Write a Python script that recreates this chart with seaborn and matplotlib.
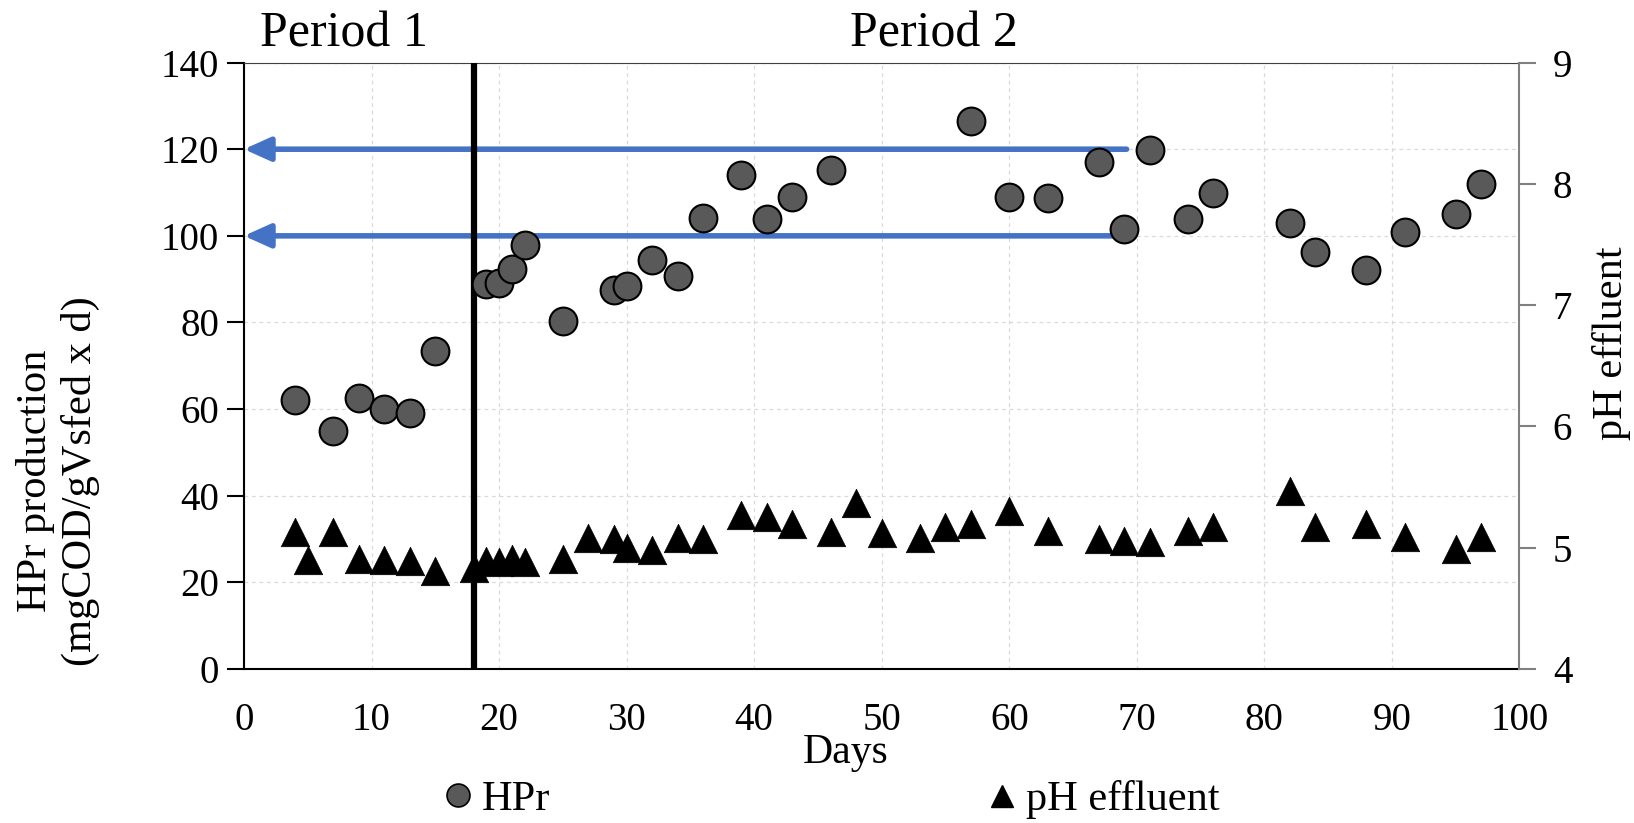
import matplotlib
matplotlib.use("Agg")
import matplotlib.pyplot as plt
import seaborn as sns
import pandas as pd
from matplotlib.lines import Line2D

# ---- data ----
hpr_days = [4, 7, 9, 11, 13, 15, 19, 20, 21, 22, 25, 29, 30, 32, 34, 36, 39, 41, 43, 46,
            57, 60, 63, 67, 69, 71, 74, 76, 82, 84, 88, 91, 95, 97]
hpr_vals = [62, 55, 62.5, 60, 59.2, 73.5, 89, 89.2, 92.3, 97.8, 80.4, 87.6, 88.4, 94.4, 90.8, 104.2,
            114.1, 104, 109, 115.1, 126.6, 108.9, 108.7, 117.1, 101.6, 119.9, 104, 109.9, 102.9,
            96.2, 92.2, 100.8, 105, 112]

ph_days = [4, 5, 7, 9, 11, 13, 15, 18, 19, 20, 21, 22, 25, 27, 29, 30, 32, 34, 36, 39, 41, 43,
           46, 48, 50, 53, 55, 57, 60, 63, 67, 69, 71, 74, 76, 82, 84, 88, 91, 95, 97]
ph_vals = [5.13, 4.90, 5.13, 4.91, 4.90, 4.89, 4.81, 4.83, 4.89, 4.88, 4.91, 4.88, 4.91, 5.08,
           5.07, 5.00, 4.98, 5.08, 5.07, 5.27, 5.25, 5.20, 5.13, 5.37, 5.12, 5.08, 5.17, 5.20,
           5.30, 5.14, 5.07, 5.06, 5.05, 5.14, 5.17, 5.47, 5.17, 5.20, 5.09, 4.99, 5.09]

arrow_levels = [120, 100]
arrow_start = 69.2
period_split = 18
x_ticks = [0, 10, 20, 30, 40, 50, 60, 70, 80, 90, 100]
y_ticks = [0, 20, 40, 60, 80, 100, 120, 140]
ph_ticks = [4, 5, 6, 7, 8, 9]

df_hpr = pd.DataFrame({"Days": hpr_days, "HPr": hpr_vals})
df_ph = pd.DataFrame({"Days": ph_days, "pH": ph_vals})

sns.set_style("white")
plt.rcParams["font.family"] = ["Liberation Serif", "DejaVu Serif"]
for k in ["text.color", "axes.labelcolor", "xtick.color", "ytick.color"]:
    plt.rcParams[k] = "black"

fig = plt.figure(figsize=(16.34, 8.23), dpi=100)
ax = fig.add_axes([0.1493, 0.187, 0.7806, 0.737])
ax2 = ax.twinx()

ax.set_xlim(0, 100)
ax.set_ylim(0, 140)
ax2.set_ylim(4, 9)
ax.set_xticks(x_ticks)
ax.set_yticks(y_ticks)
ax2.set_yticks(ph_ticks)

ax.grid(True, color="#d9d9d9", linestyle=(0, (3, 3)), linewidth=0.9)
ax.set_axisbelow(True)

# arrows
for lvl in arrow_levels:
    ax.annotate("", xy=(0, lvl), xytext=(arrow_start, lvl),
                arrowprops=dict(arrowstyle="-|>,head_length=1.0,head_width=0.45",
                                color="#4472C4", lw=4, mutation_scale=16,
                                shrinkA=0, shrinkB=0), zorder=3)

ax.axvline(period_split, color="black", lw=4.5, zorder=4)

sns.scatterplot(data=df_hpr, x="Days", y="HPr", ax=ax, marker="o", s=400,
                color="#595959", edgecolor="black", linewidth=1.5, zorder=5, legend=False)
sns.scatterplot(data=df_ph, x="Days", y="pH", ax=ax2, marker="^", s=420,
                color="black", edgecolor="black", linewidth=0.5, zorder=5, legend=False)

# spines
for s in ["left", "bottom"]:
    ax.spines[s].set_color("black")
    ax.spines[s].set_linewidth(1.5)
ax.spines["top"].set_color("#404040")
ax.spines["right"].set_visible(False)
for s in ["left", "bottom", "top"]:
    ax2.spines[s].set_visible(False)
ax2.spines["right"].set_color("#808080")
ax2.spines["right"].set_linewidth(1.5)

ax.tick_params(axis="both", direction="out", length=12, width=1.5, color="black",
               labelsize=28, pad=6, labelcolor="black")
ax.tick_params(axis="x", pad=12)
ax2.tick_params(axis="y", direction="out", length=12, width=1.5, color="#808080",
                labelsize=28, pad=12, labelcolor="black")

ax.set_xlabel("")
ax.set_ylabel("")
ax2.set_ylabel("")

fig.text(0.5177, 0.0729, "Days", fontsize=30, ha="center", va="baseline")
fig.text(0.0355, 0.4156, "HPr production\n(mgCOD/gVsfed x d)", fontsize=30.5,
         rotation=90, ha="center", va="center", linespacing=1.2, multialignment="center")
fig.text(0.9865, 0.583, "pH effluent", fontsize=30.5, rotation=90, ha="center", va="center")

fig.text(0.2105, 0.943, "Period 1", fontsize=36, ha="center", va="baseline")
fig.text(0.5716, 0.943, "Period 2", fontsize=36, ha="center", va="baseline")

h_hpr = Line2D([], [], marker="o", linestyle="", markersize=16.5, markerfacecolor="#595959",
               markeredgecolor="black", markeredgewidth=1.2, label="HPr")
h_ph = Line2D([], [], marker="^", linestyle="", markersize=16.5, markerfacecolor="black",
              markeredgecolor="black", label="pH effluent")
leg1 = fig.legend(handles=[h_hpr], loc="center left", bbox_to_anchor=(0.2726, 0.028),
                  frameon=False, fontsize=30.5, handlelength=0.6, handletextpad=0.25,
                  borderpad=0, borderaxespad=0)
leg2 = fig.legend(handles=[h_ph], loc="center left", bbox_to_anchor=(0.6056, 0.028),
                  frameon=False, fontsize=30.5, handlelength=0.6, handletextpad=0.25,
                  borderpad=0, borderaxespad=0)

fig.savefig("out.png", dpi=100)
